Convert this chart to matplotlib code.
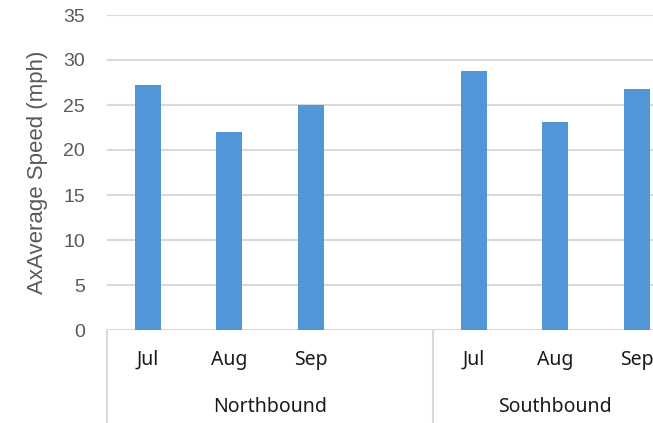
import numpy as np
import matplotlib
matplotlib.use("Agg")
from matplotlib import pyplot as plt
from matplotlib import transforms

# categories (Northbound has an empty 4th slot)
groups = ["Northbound", "Southbound"]
months_north = ["Jul", "Aug", "Sep", ""]
months_south = ["Jul", "Aug", "Sep"]
speed_north = [27.2, 22.0, 25.0, np.nan]
speed_south = [28.8, 23.1, 26.8]
y_ticks = [0, 5, 10, 15, 20, 25, 30, 35]

BAR = "#5096D9"
GRID = "#D9D9D9"
TICK = "#595959"

W, H = 653, 423
fig = plt.figure(figsize=(W / 100, H / 100), dpi=100)

# axes runs past the right edge of the picture (chart is cropped there)
left, right, top, bottom = 107, 677.5, 15, 330
ax = fig.add_axes([left / W, (H - bottom) / H, (right - left) / W, (bottom - top) / H])

labels = months_north + months_south
values = speed_north + speed_south
x = np.arange(len(labels)) + 0.5
ax.bar(x, values, width=0.32, color=BAR, zorder=3)

ax.set_xlim(0, len(labels))
ax.set_ylim(0, 35)
ax.set_yticks(y_ticks)
ax.set_xticks([])
ax.tick_params(axis="y", length=0, pad=16, labelsize=14, labelcolor=TICK)
for lab in ax.get_yticklabels():
    lab.set_fontfamily("Liberation Sans")
ax.grid(axis="y", color=GRID, linewidth=1.5, zorder=0)
for s in ax.spines.values():
    s.set_visible(False)

# multi-level category axis
trans = transforms.blended_transform_factory(ax.transData, ax.transAxes)
low = -(H - bottom) / (bottom - top)
for xx in [0, len(months_north)]:
    ax.plot([xx, xx], [0, low], color=GRID, linewidth=1.5, clip_on=False, transform=trans)

month_y = -(360 - bottom) / (bottom - top)
group_y = -(407 - bottom) / (bottom - top)
for xx, lab in zip(x, labels):
    ax.text(xx, month_y, lab, transform=trans, ha="center", va="center",
            fontsize=14, family="Noto Sans", color="#1a1a1a")
starts = [0, len(months_north)]
ends = [len(months_north), len(labels)]
for g, a, b in zip(groups, starts, ends):
    ax.text((a + b) / 2, group_y, g, transform=trans, ha="center", va="center",
            fontsize=14, family="Noto Sans", color="#1a1a1a")

fig.text(38 / W, (H - 172) / H, "AxAverage Speed (mph)", rotation=90,
         ha="center", va="center", fontsize=16, family="Liberation Sans", color=TICK)

fig.savefig("out.png", dpi=100)
